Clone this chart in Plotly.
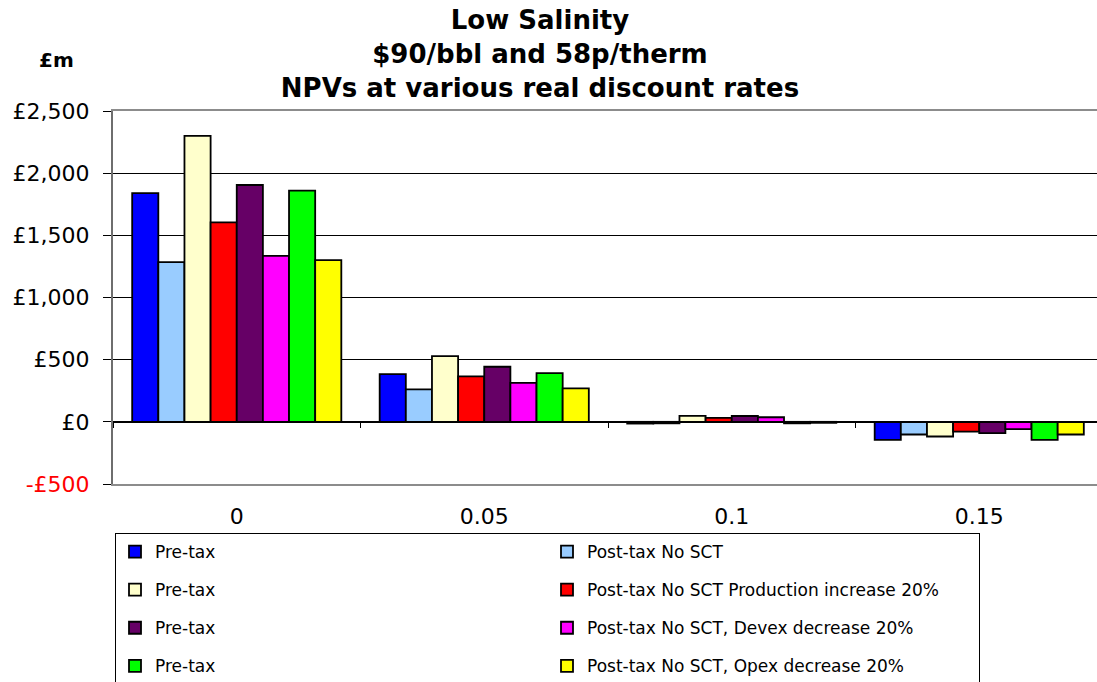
"""NPV bar chart for the low salinity case at various real discount rates."""

import plotly.graph_objects as go

# discount rates on the category axis
rates = ["0", "0.05", "0.1", "0.15"]

series_names = [
    "Pre-tax",
    "Post-tax No SCT",
    "Pre-tax",
    "Post-tax No SCT Production increase 20%",
    "Pre-tax",
    "Post-tax No SCT, Devex decrease 20%",
    "Pre-tax",
    "Post-tax No SCT, Opex decrease 20%",
]
series_colors = ["#0000FF", "#99CCFF", "#FFFFCC", "#FF0000", "#660066", "#FF00FF", "#00FF00", "#FFFF00"]

# NPV in £m, one list per series (values at rates 0, 0.05, 0.1, 0.15)
pre_tax = [1840, 383, -14, -145]
post_tax_no_sct = [1285, 261, -12, -102]
pre_tax_2 = [2300, 529, 48, -118]
post_tax_prod_up = [1605, 366, 32, -78]
pre_tax_3 = [1905, 443, 47, -91]
post_tax_devex_down = [1335, 313, 37, -59]
pre_tax_4 = [1860, 391, -12, -145]
post_tax_opex_down = [1300, 269, -8, -102]

series_values = [
    pre_tax, post_tax_no_sct, pre_tax_2, post_tax_prod_up,
    pre_tax_3, post_tax_devex_down, pre_tax_4, post_tax_opex_down,
]

y_tickvals = [-500, 0, 500, 1000, 1500, 2000, 2500]
y_ticktext = ["<span style='color:#FF0000'>-£500</span>", "£0", "£500", "£1,000", "£1,500", "£2,000", "£2,500"]

FONT = "DejaVu Sans"
W, H = 1097, 682
M_L, M_R, M_T, M_B = 113, 0, 111, 198
plot_w = W - M_L - M_R
plot_h = H - M_T - M_B
cat_px = 247.5  # the last category is cut off at the right edge in the original

fig = go.Figure()
for i, (name, color, vals) in enumerate(zip(series_names, series_colors, series_values)):
    fig.add_trace(go.Bar(
        x=rates, y=vals, name=name, legendgroup=f"s{i}",
        marker=dict(color=color, line=dict(color="black", width=1.8)),
    ))

# helper trace so the zero-crossing category axis gets drawn
fig.add_trace(go.Scatter(x=rates, y=[0] * len(rates), xaxis="x2", mode="none",
                         showlegend=False, hoverinfo="skip"))

ymin, ymax = y_tickvals[0], y_tickvals[-1]
xrange = [-0.5, -0.5 + plot_w / cat_px]

fig.update_layout(
    width=W, height=H,
    margin=dict(l=M_L, r=M_R, t=M_T, b=M_B, autoexpand=False),
    paper_bgcolor="white", plot_bgcolor="white",
    font=dict(family=FONT, color="black"),
    title=dict(
        text="Low Salinity<br>$90/bbl and 58p/therm<br>NPVs at various real discount rates",
        font=dict(family=FONT, size=26, weight="bold", color="black"),
        x=540 / W, xanchor="center", xref="container",
        y=1 - 29 / H, yanchor="top", yref="container",
    ),
    barmode="group", bargap=0.155, bargroupgap=0,
    xaxis=dict(
        type="category", categoryarray=rates, range=xrange,
        showline=True, linecolor="#8C8C8C", linewidth=2, mirror=True,
        ticks="", showgrid=False, zeroline=False,
        tickfont=dict(family=FONT, size=22, color="black"),
        ticklabelstandoff=12,
    ),
    xaxis2=dict(
        type="category", categoryarray=rates, range=xrange,
        overlaying="x", anchor="free", position=(0 - ymin) / (ymax - ymin),
        showline=True, linecolor="black", linewidth=1,
        ticks="outside", tickson="boundaries", ticklen=5, tickcolor="black",
        showticklabels=False, showgrid=False, zeroline=False,
    ),
    yaxis=dict(
        range=[ymin, ymax], tickvals=y_tickvals, ticktext=y_ticktext,
        showline=True, linecolor="#6E6E6E", linewidth=2,
        ticks="outside", ticklen=8, tickcolor="black", tickwidth=1,
        showgrid=True, gridcolor="black", gridwidth=1, zeroline=False,
        tickfont=dict(family=FONT, size=22, color="black"),
        ticklabelstandoff=9,
    ),
    legend=dict(
        orientation="h", traceorder="grouped",
        x=2 / plot_w, xanchor="left", y=-(533 - (H - M_B)) / plot_h, yanchor="top",
        entrywidth=387, entrywidthmode="pixels", tracegroupgap=13,
        bordercolor="black", borderwidth=1, bgcolor="white",
        font=dict(family=FONT, size=17, color="black"),
    ),
    annotations=[dict(
        text="<b>£m</b>", xref="paper", yref="paper",
        x=(56 - M_L) / plot_w, y=(H - M_B - 60) / plot_h,
        xanchor="center", yanchor="middle", showarrow=False,
        font=dict(family=FONT, size=20, color="black"),
    )],
)

# the page body has a default 8px margin; drop it so the figure sits at the window origin
fig.write_html("out.html", config={"displayModeBar": False},
               post_script="document.body.style.margin='0';")
